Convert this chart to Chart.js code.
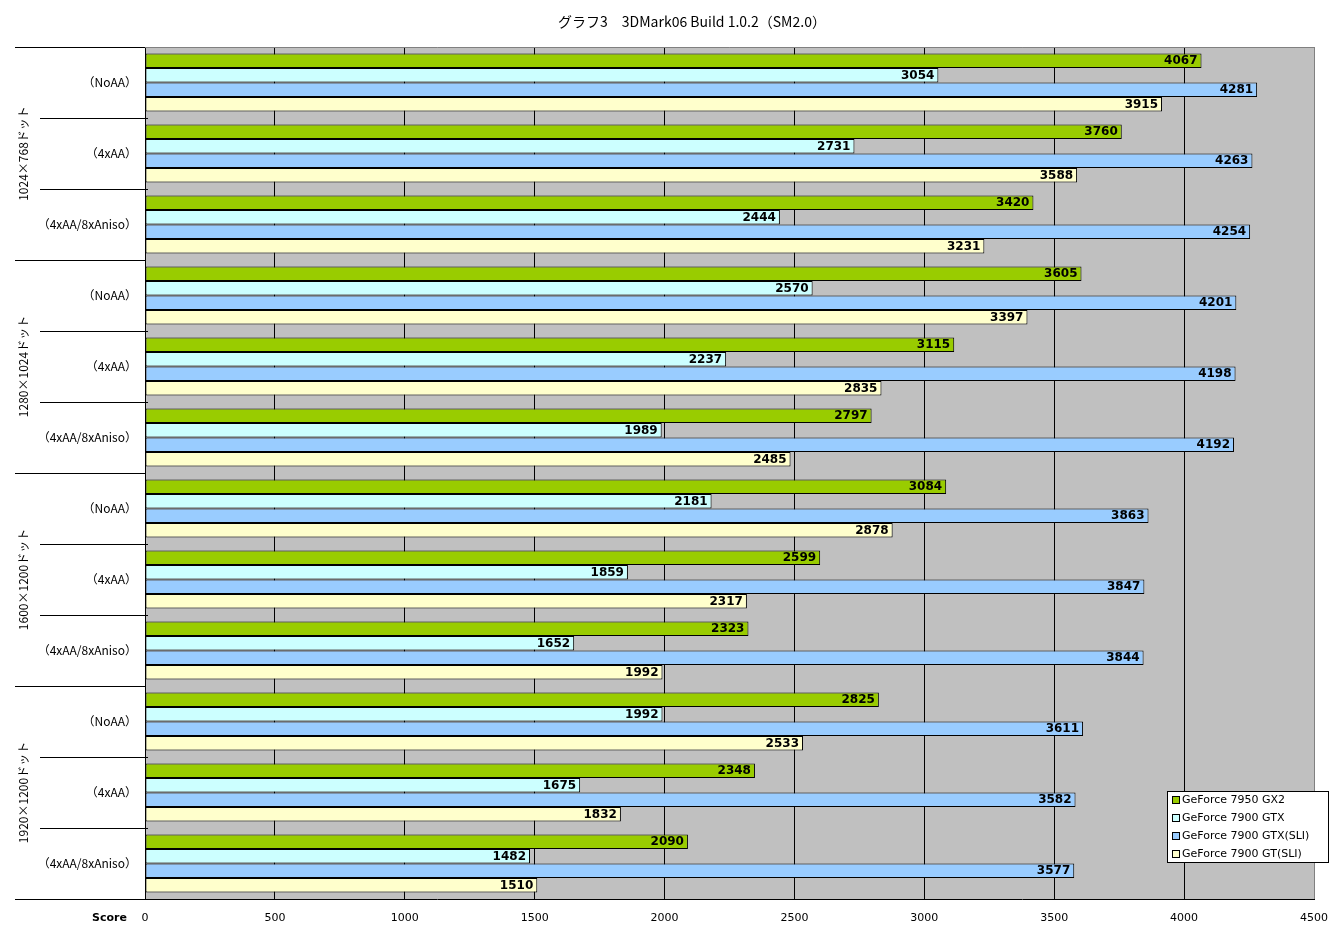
<!DOCTYPE html>
<html><head><meta charset="utf-8">
<script src="https://cdn.jsdelivr.net/npm/chart.js@4.4.1/dist/chart.umd.min.js"></script>
<style>html,body{margin:0;padding:0;background:#fff;}canvas{display:block;}</style>
</head><body>
<canvas id="c" width="1335" height="932"></canvas>
<script>
const TITLE = 'グラフ3　3DMark06 Build 1.0.2（SM2.0）';
const resolutions = ['1024×768ドット', '1280×1024ドット', '1600×1200ドット', '1920×1200ドット'];
const settings = ['（NoAA）', '（4xAA）', '（4xAA/8xAniso）'];
const seriesNames = ['GeForce 7950 GX2', 'GeForce 7900 GTX', 'GeForce 7900 GTX(SLI)', 'GeForce 7900 GT(SLI)'];
const seriesColors = ['#99CC00', '#CCFFFF', '#99CCFF', '#FFFFCC'];
const gx2     = [4067, 3760, 3420, 3605, 3115, 2797, 3084, 2599, 2323, 2825, 2348, 2090];
const gtx     = [3054, 2731, 2444, 2570, 2237, 1989, 2181, 1859, 1652, 1992, 1675, 1482];
const gtxSli  = [4281, 4263, 4254, 4201, 4198, 4192, 3863, 3847, 3844, 3611, 3582, 3577];
const gtSli   = [3915, 3588, 3231, 3397, 2835, 2485, 2878, 2317, 1992, 2533, 1832, 1510];
const xTicks = [0, 500, 1000, 1500, 2000, 2500, 3000, 3500, 4000, 4500];
const axisTitle = 'Score';

const labels = [];
resolutions.forEach(() => settings.forEach(s => labels.push(s)));
const values = [gx2, gtx, gtxSli, gtSli];

const FONT = '"Noto Sans CJK JP", "DejaVu Sans", sans-serif';

const decor = {
  id: 'decor',
  beforeDraw(chart) {
    const {ctx, chartArea: a} = chart;
    ctx.save();
    ctx.fillStyle = '#C0C0C0';
    ctx.fillRect(a.left, a.top, a.right - a.left, a.bottom - a.top);
    ctx.restore();
  },
  afterDraw(chart) {
    const {ctx, chartArea: a} = chart;
    const y = chart.scales.y;
    ctx.save();
    ctx.strokeStyle = '#808080';
    ctx.lineWidth = 1;
    ctx.beginPath();
    ctx.moveTo(a.left, a.top + 0.5); ctx.lineTo(a.right + 0.5, a.top + 0.5); ctx.lineTo(a.right + 0.5, a.bottom);
    ctx.stroke();
    const n = labels.length;
    const step = (y.getPixelForValue(1) - y.getPixelForValue(0));
    ctx.strokeStyle = '#000';
    for (let i = 0; i <= n; i++) {
      const py = Math.round(y.getPixelForValue(i) - step / 2) + 0.5;
      const major = i % settings.length === 0;
      ctx.beginPath();
      ctx.moveTo(major ? 15 : 40, py);
      ctx.lineTo(a.left + (major ? 0 : 3), py);
      ctx.stroke();
    }
    ctx.beginPath();
    ctx.moveTo(15, Math.round(a.bottom) + 0.5); ctx.lineTo(a.left, Math.round(a.bottom) + 0.5); ctx.stroke();
    ctx.fillStyle = '#000';
    ctx.font = '12px ' + FONT;
    ctx.textAlign = 'center';
    ctx.textBaseline = 'middle';
    resolutions.forEach((r, gi) => {
      const i0 = gi * settings.length, i1 = i0 + settings.length - 1;
      const cy = (y.getPixelForValue(i0) + y.getPixelForValue(i1)) / 2;
      ctx.save();
      ctx.translate(23, cy);
      ctx.rotate(-Math.PI / 2);
      ctx.fillText(r, 0, 0);
      ctx.restore();
    });
    ctx.font = 'bold 11px "DejaVu Sans", sans-serif';
    ctx.textAlign = 'right';
    ctx.fillText(axisTitle, 127, 918);
    ctx.font = '14px ' + FONT;
    ctx.textAlign = 'center';
    ctx.fillText(TITLE, 692, 22);
    ctx.font = 'bold 12px "DejaVu Sans", sans-serif';
    ctx.textAlign = 'right';
    chart.data.datasets.forEach((ds, di) => {
      chart.getDatasetMeta(di).data.forEach((bar, bi) => {
        ctx.fillText(String(ds.data[bi]), bar.x - 4, bar.y + 0.5);
      });
    });
    const lx = 1167, ly = 791, lw = 161, lh = 71;
    ctx.fillStyle = '#fff';
    ctx.fillRect(lx, ly, lw, lh);
    ctx.strokeStyle = '#000';
    ctx.strokeRect(lx + 0.5, ly + 0.5, lw, lh);
    ctx.font = '11px "DejaVu Sans", sans-serif';
    ctx.textAlign = 'left';
    seriesNames.forEach((nm, k) => {
      const cy = ly + 9 + k * 18;
      ctx.fillStyle = seriesColors[k];
      ctx.fillRect(lx + 5, cy - 4, 8, 8);
      ctx.strokeStyle = '#000';
      ctx.strokeRect(lx + 5.5, cy - 3.5, 7, 7);
      ctx.fillStyle = '#000';
      ctx.fillText(nm, lx + 15, cy + 0.5);
    });
    ctx.restore();
  }
};

new Chart(document.getElementById('c'), {
  type: 'bar',
  data: {
    labels,
    datasets: seriesNames.map((nm, k) => ({
      label: nm,
      data: values[k],
      backgroundColor: seriesColors[k],
      borderColor: '#000',
      borderWidth: 1,
      borderSkipped: false,
      categoryPercentage: 0.82,
      barPercentage: 1.0
    }))
  },
  options: {
    indexAxis: 'y',
    responsive: false,
    animation: false,
    layout: { padding: { top: 47, right: 21, left: 0, bottom: 0 } },
    plugins: { legend: { display: false }, title: { display: false }, tooltip: { enabled: false } },
    scales: {
      x: {
        min: 0, max: 4500,
        afterBuildTicks(s) { s.ticks = xTicks.map(v => ({ value: v })); },
        afterFit(s) { s.height = 33; s.paddingRight = 0; s.paddingLeft = 0; },
        grid: { color: c => (c.tick && c.tick.value === 4500 ? '#808080' : '#000'), drawTicks: false, lineWidth: 1 },
        border: { display: true, color: '#000' },
        ticks: { color: '#000', font: { family: '"DejaVu Sans", sans-serif', size: 11 }, padding: 13, callback: v => String(v) }
      },
      y: {
        afterFit(s) { s.width = 145; s.paddingTop = 0; s.paddingBottom = 0; },
        grid: { display: false, drawTicks: false },
        border: { display: true, color: '#000' },
        ticks: { color: '#000', font: { family: FONT, size: 12 }, padding: 8, crossAlign: 'near' }
      }
    }
  },
  plugins: [decor]
});
</script>
</body></html>
